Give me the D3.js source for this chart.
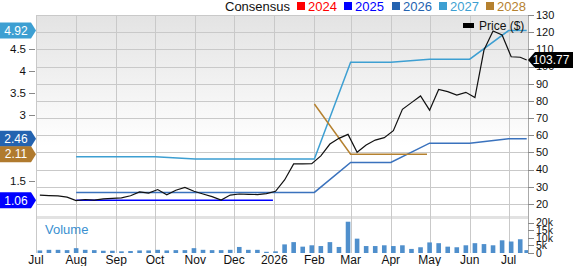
<!DOCTYPE html>
<html><head><meta charset="utf-8">
<script src="https://cdn.jsdelivr.net/npm/d3@7"></script>
<style>body{margin:0;background:#fff}svg{display:block;font-family:"Liberation Sans",Arial,sans-serif}</style>
</head><body><svg id="c" width="573" height="266"></svg>
<script>
// ---- data ----
const weekDates = ["2025-07-04","2025-07-11","2025-07-18","2025-07-25","2025-08-01","2025-08-08","2025-08-15","2025-08-22","2025-08-29",
"2025-09-05","2025-09-12","2025-09-19","2025-09-26","2025-10-03","2025-10-10","2025-10-17","2025-10-24","2025-10-31",
"2025-11-07","2025-11-14","2025-11-21","2025-11-28","2025-12-05","2025-12-12","2025-12-19","2025-12-26",
"2026-01-02","2026-01-09","2026-01-16","2026-01-23","2026-01-30","2026-02-06","2026-02-13","2026-02-20","2026-02-27",
"2026-03-06","2026-03-13","2026-03-20","2026-03-27","2026-04-03","2026-04-10","2026-04-17","2026-04-24",
"2026-05-01","2026-05-08","2026-05-15","2026-05-22","2026-05-29","2026-06-05","2026-06-12","2026-06-19","2026-06-26",
"2026-07-03","2026-07-10","2026-07-15"];
const price = [25.2,24.9,24.7,24.0,22.0,22.6,22.3,23.0,23.3,23.6,24.8,27.0,26.3,28.4,25.3,28.0,29.6,27.4,25.8,24.3,22.3,25.2,25.8,25.6,25.5,26.0,
27.4,34.0,43.3,43.3,43.5,48.0,54.9,58.2,60.5,50.1,54.3,57.2,58.6,62.7,75.1,79.0,82.9,74.6,86.7,85.4,83.4,85.0,81.9,109.6,120.7,118.4,105.7,105.4,103.77];
const volumeK = [1.7,2.1,2.1,1.9,3.2,2.1,1.9,1.5,1.5,1.1,1.3,1.7,1.7,2.1,1.7,1.9,1.9,3.2,2.1,1.9,1.9,2.1,4.0,2.1,2.1,0.8,1.1,5.7,7.2,4.2,5.1,4.6,7.2,4.0,20.7,9.5,4.6,4.6,5.1,4.6,5.1,2.7,3.8,7.0,6.5,4.2,3.8,5.1,6.5,5.9,5.1,8.4,7.6,9.1,1.9];

const est2025Dates = ["2025-08-01","2025-12-31"];
const est2025 = [1.06,1.06];
const est2026Dates = ["2025-08-01","2026-02-01","2026-03-01","2026-04-01","2026-05-01","2026-06-01","2026-07-01","2026-07-15"];
const est2026 = [1.24,1.24,1.92,1.92,2.36,2.36,2.46,2.46];
const est2027Dates = ["2025-08-01","2025-10-01","2025-11-01","2026-02-01","2026-03-01","2026-04-01","2026-05-01","2026-06-01","2026-07-01","2026-07-15"];
const est2027 = [2.05,2.05,2.0,2.0,4.2,4.2,4.27,4.27,4.92,4.92];
const est2028Dates = ["2026-02-01","2026-03-01","2026-04-29"];
const est2028 = [3.25,2.11,2.11];

const legendYears = ["2024","2025","2026","2027","2028"];
const legendColors = ["#ff0000","#0000ff","#2463b0","#3d9fd2","#b5812f"];
const rightTicks = [20,30,40,50,60,70,80,90,100,110,120,130];
const leftTicks = [1.5,3,3.5,4,4.5];
const volTicks = [0,5,10,15,20];
const volTickLabels = ["0","5k","10k","15k","20k"];
const badges = [{v:4.92,c:"#3d9fd2"},{v:2.46,c:"#2463b0"},{v:2.11,c:"#b07a2e"},{v:1.06,c:"#0000ff"}];
const lastPrice = 103.77;

// ---- layout ----
const L = 36, R = 528, T = 15, PB = 216, VT = 219, VB = 253;
const svg = d3.select("#c");
const parse = d3.timeParse("%Y-%m-%d");
const x = d3.scaleTime().domain([parse("2025-07-01"), parse("2026-07-16")]).range([L, R]);
const yP = d3.scaleLinear().domain([12.42, 130]).range([PB + 1, T]);
const yL = d3.scaleLinear().domain([0.682, 5.273]).range([PB + 1, T]);
const yV = d3.scaleLinear().domain([0, 22.5]).range([VB, VT]);

const defs = svg.append("defs");
const g = defs.append("linearGradient").attr("id","bg").attr("x1",0).attr("y1",0).attr("x2",0).attr("y2",1);
g.append("stop").attr("offset","0").attr("stop-color","#e3e3e3");
g.append("stop").attr("offset","0.65").attr("stop-color","#ffffff");

svg.append("rect").attr("x",L).attr("y",T).attr("width",R-L).attr("height",PB-T).attr("fill","url(#bg)");
svg.append("rect").attr("x",L).attr("y",PB).attr("width",R-L).attr("height",VT-PB).attr("fill","#e2e2e2");

// horizontal grid
svg.append("g").selectAll("line").data(rightTicks).join("line")
  .attr("x1",L).attr("x2",R).attr("y1",d=>Math.round(yP(d))+0.5).attr("y2",d=>Math.round(yP(d))+0.5)
  .attr("stroke","#c9c9c9").attr("stroke-width",1);
// vertical grid
const months = d3.timeMonth.range(parse("2025-07-01"), parse("2026-07-16"));
svg.append("g").selectAll("line").data(months).join("line")
  .attr("x1",d=>Math.round(x(d))+0.5).attr("x2",d=>Math.round(x(d))+0.5).attr("y1",T).attr("y2",VB)
  .attr("stroke","#c9c9c9").attr("stroke-width",1);

// volume bars
const wd = weekDates.map(parse);
svg.append("g").selectAll("rect").data(volumeK).join("rect")
  .attr("x",(d,i)=>x(wd[i])-2.3).attr("width",4.6)
  .attr("y",d=>yV(d)).attr("height",d=>yV(0)-yV(d)).attr("fill","#4f8fcc");

// consensus lines
function est(dates, vals, color){
  const pts = dates.map((d,i)=>[x(parse(d)), yL(vals[i])]);
  svg.append("path").attr("d", d3.line()(pts)).attr("fill","none").attr("stroke",color).attr("stroke-width",1.5);
}
est(est2027Dates, est2027, legendColors[3]);
est(est2026Dates, est2026, "#3a72bd");
est(est2028Dates, est2028, legendColors[4]);
est(est2025Dates, est2025, legendColors[1]);

// price line
svg.append("path").attr("d", d3.line().x((d,i)=>x(wd[i])).y(d=>yP(d))(price))
  .attr("fill","none").attr("stroke","#111").attr("stroke-width",1.2);

// right axis
svg.append("line").attr("x1",R+0.5).attr("x2",R+0.5).attr("y1",T).attr("y2",VB).attr("stroke","#aaa");
const ra = svg.append("g");
ra.selectAll("line").data(rightTicks).join("line").attr("x1",R).attr("x2",R+6)
  .attr("y1",d=>Math.round(yP(d))+0.5).attr("y2",d=>Math.round(yP(d))+0.5).attr("stroke","#888");
ra.selectAll("text").data(rightTicks).join("text").attr("x",R+8).attr("y",d=>yP(d)).attr("dy","0.35em")
  .attr("font-size",11).attr("fill","#111").text(d=>d);
const va = svg.append("g");
va.selectAll("line").data(volTicks).join("line").attr("x1",R).attr("x2",R+6)
  .attr("y1",d=>Math.round(yV(d))+0.5).attr("y2",d=>Math.round(yV(d))+0.5).attr("stroke","#888");
va.selectAll("text").data(volTicks).join("text").attr("x",R+8).attr("y",d=>yV(d)).attr("dy","0.35em")
  .attr("font-size",10.5).attr("fill","#111").text((d,i)=>volTickLabels[i]);

// left axis
svg.append("line").attr("x1",L+0.5).attr("x2",L+0.5).attr("y1",T).attr("y2",VB).attr("stroke","#c9c9c9");
const la = svg.append("g");
la.selectAll("line").data(leftTicks).join("line").attr("x1",L-7).attr("x2",L-1)
  .attr("y1",d=>Math.round(yL(d))+0.5).attr("y2",d=>Math.round(yL(d))+0.5).attr("stroke","#888");
la.selectAll("text").data(leftTicks).join("text").attr("x",L-10).attr("y",d=>yL(d)).attr("dy","0.35em")
  .attr("text-anchor","end").attr("font-size",11.5).attr("fill","#111").text(d=>d);

// x labels
svg.append("g").selectAll("text").data(months).join("text")
  .attr("x",d=>x(d)).attr("y",260).attr("dy","0.35em").attr("text-anchor","middle")
  .attr("font-size",12).attr("fill","#111")
  .text(d=>d.getMonth()===0 ? d.getFullYear() : d3.timeFormat("%b")(d));

// left badges
badges.forEach(b=>{
  const y = yL(b.v);
  svg.append("path").attr("d",`M0,${y-8}H31L36,${y}L31,${y+8}H0Z`).attr("fill",b.c);
  svg.append("text").attr("x",16).attr("y",y).attr("dy","0.36em").attr("text-anchor","middle")
    .attr("font-size",12).attr("fill","#fff").text(b.v.toFixed(2));
});
// right badge
{
  const y = yP(lastPrice);
  svg.append("path").attr("d",`M${R},${y}L${R+7},${y-8}H573V${y+8}H${R+7}Z`).attr("fill","#000");
  svg.append("text").attr("x",551).attr("y",y).attr("dy","0.36em").attr("text-anchor","middle")
    .attr("font-size",12).attr("fill","#fff").text(lastPrice.toFixed(2));
}

// top legend
const leg = svg.append("g").attr("font-size",13);
leg.append("text").attr("x",225).attr("y",6).attr("dy","0.35em").attr("fill","#111").text("Consensus");
const legX = [297,344,392,439,486];
legendYears.forEach((yr,i)=>{
  leg.append("rect").attr("x",legX[i]).attr("y",2).attr("width",8).attr("height",8).attr("fill",legendColors[i]);
  leg.append("text").attr("x",legX[i]+11).attr("y",6).attr("dy","0.35em").attr("fill",legendColors[i]).text(yr);
});
// price legend
svg.append("rect").attr("x",463).attr("y",23).attr("width",11).attr("height",5).attr("fill","#000");
svg.append("text").attr("x",479).attr("y",26).attr("dy","0.35em").attr("font-size",12).attr("fill","#111").text("Price ($)");
// volume label
svg.append("text").attr("x",45).attr("y",229).attr("dy","0.35em").attr("font-size",13).attr("fill","#3a8fd0").text("Volume");
</script></body></html>
